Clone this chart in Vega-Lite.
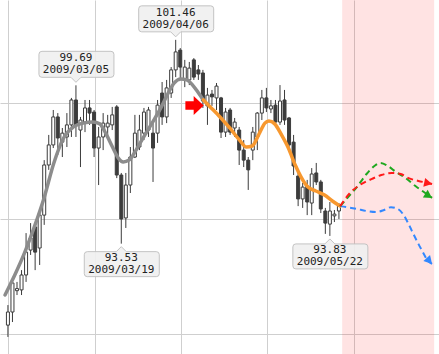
{
  "$schema": "https://vega.github.io/schema/vega-lite/v6.json",
  "width": 439,
  "height": 354,
  "autosize": {"type": "none"},
  "padding": 0,
  "background": "white",
  "config": {
    "view": {"stroke": null},
    "axis": {"labels": false, "ticks": false, "domain": false, "grid": true, "gridColor": "#cfcfcf", "gridWidth": 1, "gridOpacity": 1, "titleOpacity": 0}
  },
  "datasets": {
    "zone": [{"start": 73.71, "end": 94}],
    "candles": [
      {"d":"2009-02-12","i":0,"o":90.36,"h":91.14,"l":89.90,"c":90.87},
      {"d":"2009-02-13","i":1,"o":90.87,"h":92.11,"l":90.48,"c":92.00},
      {"d":"2009-02-16","i":2,"o":91.70,"h":92.04,"l":91.53,"c":91.78},
      {"d":"2009-02-17","i":3,"o":91.73,"h":92.50,"l":91.53,"c":92.31},
      {"d":"2009-02-18","i":4,"o":92.31,"h":93.94,"l":92.04,"c":93.20},
      {"d":"2009-02-19","i":5,"o":93.28,"h":94.33,"l":93.09,"c":93.75},
      {"d":"2009-02-20","i":6,"o":94.18,"h":94.26,"l":92.50,"c":93.20},
      {"d":"2009-02-23","i":7,"o":93.36,"h":94.76,"l":92.70,"c":94.64},
      {"d":"2009-02-24","i":8,"o":94.64,"h":96.78,"l":94.26,"c":96.59},
      {"d":"2009-02-25","i":9,"o":96.59,"h":97.76,"l":96.40,"c":97.37},
      {"d":"2009-02-26","i":10,"o":97.37,"h":98.73,"l":97.25,"c":98.46},
      {"d":"2009-02-27","i":11,"o":98.46,"h":98.61,"l":96.98,"c":97.64},
      {"d":"2009-03-02","i":12,"o":97.48,"h":98.03,"l":96.90,"c":97.83},
      {"d":"2009-03-03","i":13,"o":97.68,"h":98.61,"l":97.29,"c":98.15},
      {"d":"2009-03-04","i":14,"o":98.15,"h":99.20,"l":97.68,"c":99.12},
      {"d":"2009-03-05","i":15,"o":99.12,"h":99.69,"l":97.68,"c":98.15},
      {"d":"2009-03-06","i":16,"o":97.95,"h":98.46,"l":96.51,"c":98.34},
      {"d":"2009-03-09","i":17,"o":98.26,"h":99.12,"l":97.87,"c":98.81},
      {"d":"2009-03-10","i":18,"o":98.81,"h":99.12,"l":98.15,"c":98.61},
      {"d":"2009-03-11","i":19,"o":98.65,"h":98.73,"l":96.90,"c":97.25},
      {"d":"2009-03-12","i":20,"o":97.25,"h":98.07,"l":95.81,"c":97.68},
      {"d":"2009-03-13","i":21,"o":97.68,"h":98.61,"l":97.17,"c":98.22},
      {"d":"2009-03-16","i":22,"o":98.07,"h":98.54,"l":97.64,"c":98.22},
      {"d":"2009-03-17","i":23,"o":98.15,"h":98.85,"l":97.95,"c":98.54},
      {"d":"2009-03-18","i":24,"o":98.85,"h":98.92,"l":96.08,"c":96.20},
      {"d":"2009-03-19","i":25,"o":96.20,"h":96.28,"l":93.53,"c":94.49},
      {"d":"2009-03-20","i":26,"o":94.53,"h":96.28,"l":94.14,"c":95.81},
      {"d":"2009-03-23","i":27,"o":95.81,"h":97.29,"l":95.50,"c":96.90},
      {"d":"2009-03-24","i":28,"o":96.90,"h":98.54,"l":96.86,"c":97.83},
      {"d":"2009-03-25","i":29,"o":97.29,"h":98.54,"l":97.17,"c":97.95},
      {"d":"2009-03-26","i":30,"o":97.83,"h":98.81,"l":97.56,"c":98.65},
      {"d":"2009-03-27","i":31,"o":97.95,"h":98.85,"l":97.68,"c":98.73},
      {"d":"2009-03-30","i":32,"o":97.83,"h":98.22,"l":95.93,"c":97.25},
      {"d":"2009-03-31","i":33,"o":97.83,"h":99.12,"l":97.45,"c":98.92},
      {"d":"2009-04-01","i":34,"o":99.39,"h":99.82,"l":98.15,"c":98.46},
      {"d":"2009-04-02","i":35,"o":98.46,"h":99.90,"l":98.22,"c":99.59},
      {"d":"2009-04-03","i":36,"o":99.39,"h":100.40,"l":99.20,"c":100.29},
      {"d":"2009-04-06","i":37,"o":100.29,"h":101.46,"l":100.01,"c":100.99},
      {"d":"2009-04-07","i":38,"o":101.06,"h":101.14,"l":99.90,"c":100.40},
      {"d":"2009-04-08","i":39,"o":99.90,"h":100.68,"l":99.62,"c":100.40},
      {"d":"2009-04-09","i":40,"o":99.90,"h":100.60,"l":99.70,"c":100.36},
      {"d":"2009-04-10","i":41,"o":100.68,"h":100.75,"l":99.90,"c":100.01},
      {"d":"2009-04-13","i":42,"o":100.29,"h":100.48,"l":99.90,"c":100.13},
      {"d":"2009-04-14","i":43,"o":100.17,"h":100.29,"l":98.81,"c":99.08},
      {"d":"2009-04-15","i":44,"o":98.89,"h":99.59,"l":98.15,"c":99.31},
      {"d":"2009-04-16","i":45,"o":99.35,"h":99.51,"l":98.89,"c":99.24},
      {"d":"2009-04-17","i":46,"o":99.20,"h":99.78,"l":98.73,"c":99.66},
      {"d":"2009-04-20","i":47,"o":99.20,"h":99.24,"l":97.64,"c":97.87},
      {"d":"2009-04-21","i":48,"o":97.87,"h":98.81,"l":97.68,"c":98.65},
      {"d":"2009-04-22","i":49,"o":98.73,"h":98.81,"l":97.76,"c":97.87},
      {"d":"2009-04-23","i":50,"o":98.03,"h":98.42,"l":97.68,"c":98.26},
      {"d":"2009-04-24","i":51,"o":97.95,"h":98.07,"l":96.59,"c":97.17},
      {"d":"2009-04-27","i":52,"o":97.17,"h":97.56,"l":96.51,"c":96.78},
      {"d":"2009-04-28","i":53,"o":96.78,"h":96.90,"l":95.62,"c":96.40},
      {"d":"2009-04-29","i":54,"o":97.17,"h":98.07,"l":96.78,"c":97.87},
      {"d":"2009-04-30","i":55,"o":97.68,"h":98.65,"l":97.17,"c":98.61},
      {"d":"2009-05-01","i":56,"o":98.61,"h":99.51,"l":98.34,"c":99.20},
      {"d":"2009-05-04","i":57,"o":99.20,"h":99.59,"l":98.65,"c":98.81},
      {"d":"2009-05-05","i":58,"o":98.77,"h":99.12,"l":98.61,"c":98.89},
      {"d":"2009-05-06","i":59,"o":98.92,"h":99.12,"l":98.15,"c":98.26},
      {"d":"2009-05-07","i":60,"o":98.26,"h":99.70,"l":98.15,"c":99.08},
      {"d":"2009-05-08","i":61,"o":99.12,"h":99.51,"l":98.15,"c":98.34},
      {"d":"2009-05-11","i":62,"o":98.42,"h":98.46,"l":97.17,"c":97.37},
      {"d":"2009-05-12","i":63,"o":97.48,"h":97.76,"l":96.20,"c":96.55},
      {"d":"2009-05-13","i":64,"o":96.16,"h":96.40,"l":94.99,"c":95.27},
      {"d":"2009-05-14","i":65,"o":95.27,"h":95.89,"l":94.92,"c":95.73},
      {"d":"2009-05-15","i":66,"o":95.77,"h":96.01,"l":94.64,"c":95.15},
      {"d":"2009-05-18","i":67,"o":95.11,"h":96.47,"l":94.64,"c":96.24},
      {"d":"2009-05-19","i":68,"o":96.28,"h":96.67,"l":95.81,"c":95.93},
      {"d":"2009-05-20","i":69,"o":95.93,"h":96.01,"l":94.72,"c":94.88},
      {"d":"2009-05-21","i":70,"o":94.80,"h":94.92,"l":93.91,"c":94.33},
      {"d":"2009-05-22","i":71,"o":94.29,"h":95.15,"l":93.83,"c":94.80},
      {"d":"2009-05-25","i":72,"o":94.61,"h":94.84,"l":94.37,"c":94.68},
      {"d":"2009-05-26","i":73,"o":94.80,"h":95.11,"l":94.49,"c":94.99}
    ],
    "lines": [
      {"s":"gray","i":-0.65,"p":91.53},{"s":"gray","i":1.51,"p":92.31},{"s":"gray","i":3.66,"p":93.17},{"s":"gray","i":5.82,"p":94.18},
      {"s":"gray","i":7.97,"p":95.31},{"s":"gray","i":10.13,"p":96.67},{"s":"gray","i":12.28,"p":97.64},{"s":"gray","i":14.44,"p":98.07},
      {"s":"gray","i":16.59,"p":98.22},{"s":"gray","i":18.75,"p":98.26},{"s":"gray","i":20.26,"p":98.19},{"s":"gray","i":21.55,"p":97.83},
      {"s":"gray","i":23.06,"p":97.29},{"s":"gray","i":24.35,"p":96.86},{"s":"gray","i":25.43,"p":96.71},{"s":"gray","i":26.72,"p":96.78},
      {"s":"gray","i":28.02,"p":97.10},{"s":"gray","i":29.53,"p":97.56},{"s":"gray","i":31.68,"p":98.19},{"s":"gray","i":33.84,"p":98.85},
      {"s":"gray","i":35.35,"p":99.39},{"s":"gray","i":36.64,"p":99.78},{"s":"gray","i":38.15,"p":99.94},{"s":"gray","i":39.44,"p":99.90},
      {"s":"gray","i":40.73,"p":99.70},{"s":"gray","i":42.03,"p":99.39},{"s":"gray","i":43.10,"p":99.12},
      {"s":"orange","i":43.10,"p":99.12},{"s":"orange","i":44.61,"p":98.85},{"s":"orange","i":46.77,"p":98.46},{"s":"orange","i":48.92,"p":98.03},
      {"s":"orange","i":51.08,"p":97.56},{"s":"orange","i":52.59,"p":97.29},{"s":"orange","i":53.88,"p":97.33},{"s":"orange","i":55.39,"p":97.80},
      {"s":"orange","i":56.68,"p":98.22},{"s":"orange","i":57.54,"p":98.30},{"s":"orange","i":58.84,"p":98.19},{"s":"orange","i":60.34,"p":97.76},
      {"s":"orange","i":61.85,"p":97.25},{"s":"orange","i":63.36,"p":96.59},{"s":"orange","i":64.66,"p":96.12},{"s":"orange","i":66.16,"p":95.73},
      {"s":"orange","i":67.89,"p":95.58},{"s":"orange","i":69.83,"p":95.42},{"s":"orange","i":71.55,"p":95.19},{"s":"orange","i":73.28,"p":94.99},
      {"s":"blue","i":73.28,"p":94.99},{"s":"blue","i":74.78,"p":94.95},{"s":"blue","i":76.94,"p":94.88},{"s":"blue","i":79.09,"p":94.80},
      {"s":"blue","i":81.25,"p":94.76},{"s":"blue","i":82.97,"p":94.84},{"s":"blue","i":84.48,"p":94.95},{"s":"blue","i":85.99,"p":94.88},
      {"s":"blue","i":87.28,"p":94.64},{"s":"blue","i":88.36,"p":94.29},{"s":"blue","i":89.44,"p":93.90},{"s":"blue","i":90.52,"p":93.52},
      {"s":"blue","i":91.60,"p":93.17},{"s":"blue","i":92.67,"p":92.85},{"s":"blue","i":93.54,"p":92.74},
      {"s":"green","i":73.28,"p":94.99},{"s":"green","i":75.22,"p":95.38},{"s":"green","i":76.94,"p":95.73},{"s":"green","i":79.09,"p":96.24},
      {"s":"green","i":80.82,"p":96.55},{"s":"green","i":82.11,"p":96.67},{"s":"green","i":83.84,"p":96.55},{"s":"green","i":85.56,"p":96.32},
      {"s":"green","i":87.72,"p":96.08},{"s":"green","i":89.87,"p":95.77},{"s":"green","i":92.03,"p":95.50},{"s":"green","i":93.54,"p":95.31},
      {"s":"red","i":73.28,"p":94.99},{"s":"red","i":75.43,"p":95.50},{"s":"red","i":77.59,"p":95.81},{"s":"red","i":80.17,"p":96.04},
      {"s":"red","i":82.33,"p":96.20},{"s":"red","i":84.70,"p":96.28},{"s":"red","i":86.64,"p":96.24},{"s":"red","i":88.36,"p":96.08},
      {"s":"red","i":90.52,"p":95.97},{"s":"red","i":92.67,"p":95.89},{"s":"red","i":93.54,"p":95.85}
    ],
    "arrows": [
      {"s":"green","i":93.54,"p":95.31},
      {"s":"red","i":93.54,"p":95.85},
      {"s":"blue","i":93.54,"p":92.74}
    ],
    "marker": [{"i":43.17,"p":98.905}],
    "notes": [
      {"i":37,"p":101.46,"v":"101.46","d":"2009/04/06","pos":"above"},
      {"i":15,"p":99.69,"v":"99.69","d":"2009/03/05","pos":"above"},
      {"i":25,"p":93.53,"v":"93.53","d":"2009/03/19","pos":"below"},
      {"i":71,"p":93.83,"v":"93.83","d":"2009/05/22","pos":"below"}
    ]
  },
  "layer": [
    {
      "data": {"name": "zone"},
      "mark": {"type": "rect", "fill": "#ff0000", "opacity": 0.11},
      "encoding": {
        "x": {"field": "start", "type": "quantitative", "scale": {"domain": [-0.6466, 93.966], "nice": false, "zero": false}, "axis": {"values": [0, 19.18, 38.15, 57.11, 76.29], "title": null}},
        "x2": {"field": "end"},
        "y": {"datum": 103.01, "type": "quantitative", "scale": {"domain": [89.236, 103.01], "nice": false, "zero": false}, "axis": {"values": [90, 94.5, 99], "title": null}},
        "y2": {"datum": 89.236}
      }
    },
    {
      "data": {"name": "candles"},
      "mark": {"type": "rule", "color": "#3c3c3c", "strokeWidth": 1},
      "encoding": {
        "x": {"field": "i", "type": "quantitative"},
        "y": {"field": "l", "type": "quantitative"},
        "y2": {"field": "h"}
      }
    },
    {
      "data": {"name": "candles"},
      "mark": {"type": "bar", "size": 3, "stroke": "#3c3c3c", "strokeWidth": 1},
      "encoding": {
        "x": {"field": "i", "type": "quantitative"},
        "y": {"field": "o", "type": "quantitative"},
        "y2": {"field": "c"},
        "fill": {"condition": {"test": "datum.c >= datum.o", "value": "#ffffff"}, "value": "#3c3c3c"}
      }
    },
    {
      "data": {"name": "lines"},
      "transform": [{"filter": "datum.s == 'gray' || datum.s == 'orange'"}],
      "mark": {"type": "line", "strokeWidth": 3.5, "interpolate": "monotone", "strokeCap": "round"},
      "encoding": {
        "x": {"field": "i", "type": "quantitative"},
        "y": {"field": "p", "type": "quantitative"},
        "color": {"field": "s", "type": "nominal", "scale": {"domain": ["gray", "orange", "green", "red", "blue"], "range": ["#8c8c8c", "#f7982f", "#1fa81f", "#ff1a1a", "#3388ff"]}, "legend": null}
      }
    },
    {
      "data": {"name": "lines"},
      "transform": [{"filter": "datum.s == 'green' || datum.s == 'red' || datum.s == 'blue'"}],
      "mark": {"type": "line", "strokeWidth": 2, "strokeDash": [6, 4], "interpolate": "monotone"},
      "encoding": {
        "x": {"field": "i", "type": "quantitative"},
        "y": {"field": "p", "type": "quantitative"},
        "color": {"field": "s", "type": "nominal", "legend": null}
      }
    },
    {
      "data": {"name": "arrows"},
      "transform": [{"filter": "datum.s == 'green'"}],
      "mark": {"type": "point", "shape": "M 0 0 L -8 -4.5 L -8 4.5 Z", "size": 4, "filled": true, "opacity": 1, "angle": 32},
      "encoding": {
        "x": {"field": "i", "type": "quantitative"},
        "y": {"field": "p", "type": "quantitative"},
        "color": {"field": "s", "type": "nominal", "legend": null}
      }
    },
    {
      "data": {"name": "arrows"},
      "transform": [{"filter": "datum.s == 'red'"}],
      "mark": {"type": "point", "shape": "M 0 0 L -8 -4.5 L -8 4.5 Z", "size": 4, "filled": true, "opacity": 1, "angle": 12},
      "encoding": {
        "x": {"field": "i", "type": "quantitative"},
        "y": {"field": "p", "type": "quantitative"},
        "color": {"field": "s", "type": "nominal", "legend": null}
      }
    },
    {
      "data": {"name": "arrows"},
      "transform": [{"filter": "datum.s == 'blue'"}],
      "mark": {"type": "point", "shape": "M 0 0 L -8 -4.5 L -8 4.5 Z", "size": 4, "filled": true, "opacity": 1, "angle": 48},
      "encoding": {
        "x": {"field": "i", "type": "quantitative"},
        "y": {"field": "p", "type": "quantitative"},
        "color": {"field": "s", "type": "nominal", "legend": null}
      }
    },
    {
      "data": {"name": "marker"},
      "mark": {"type": "point", "shape": "M 0 0 L -10 -9.5 L -10 -4.2 L -18.3 -4.2 L -18.3 4.2 L -10 4.2 L -10 9.5 Z", "size": 4, "filled": true, "opacity": 1, "color": "#ff0000"},
      "encoding": {
        "x": {"field": "i", "type": "quantitative"},
        "y": {"field": "p", "type": "quantitative"}
      }
    },
    {
      "data": {"name": "notes"},
      "transform": [{"filter": "datum.pos == 'above'"}],
      "mark": {"type": "point", "shape": "M -34 -34 L 35 -34 Q 38 -34 38 -31 L 38 -11 Q 38 -8 35 -8 L 5 -8 L 0 -3 L -5 -8 L -34 -8 Q -37 -8 -37 -11 L -37 -31 Q -37 -34 -34 -34 Z", "size": 4, "filled": true, "opacity": 1, "fill": "#efefef", "fillOpacity": 0.9, "stroke": "#c3c3c3", "strokeWidth": 1},
      "encoding": {
        "x": {"field": "i", "type": "quantitative"},
        "y": {"field": "p", "type": "quantitative"}
      }
    },
    {
      "data": {"name": "notes"},
      "transform": [{"filter": "datum.pos == 'below'"}],
      "mark": {"type": "point", "shape": "M -34 8 L -5 8 L 0 3 L 5 8 L 35 8 Q 38 8 38 11 L 38 30 Q 38 33 35 33 L -34 33 Q -37 33 -37 30 L -37 11 Q -37 8 -34 8 Z", "size": 4, "filled": true, "opacity": 1, "fill": "#efefef", "fillOpacity": 0.9, "stroke": "#c3c3c3", "strokeWidth": 1},
      "encoding": {
        "x": {"field": "i", "type": "quantitative"},
        "y": {"field": "p", "type": "quantitative"}
      }
    },
    {
      "data": {"name": "notes"},
      "transform": [{"filter": "datum.pos == 'above'"}],
      "mark": {"type": "text", "font": "DejaVu Sans Mono", "fontSize": 11, "color": "#222222", "align": "center", "baseline": "middle", "dy": -27},
      "encoding": {
        "x": {"field": "i", "type": "quantitative"},
        "y": {"field": "p", "type": "quantitative"},
        "text": {"field": "v"}
      }
    },
    {
      "data": {"name": "notes"},
      "transform": [{"filter": "datum.pos == 'above'"}],
      "mark": {"type": "text", "font": "DejaVu Sans Mono", "fontSize": 11, "color": "#222222", "align": "center", "baseline": "middle", "dy": -15},
      "encoding": {
        "x": {"field": "i", "type": "quantitative"},
        "y": {"field": "p", "type": "quantitative"},
        "text": {"field": "d"}
      }
    },
    {
      "data": {"name": "notes"},
      "transform": [{"filter": "datum.pos == 'below'"}],
      "mark": {"type": "text", "font": "DejaVu Sans Mono", "fontSize": 11, "color": "#222222", "align": "center", "baseline": "middle", "dy": 14},
      "encoding": {
        "x": {"field": "i", "type": "quantitative"},
        "y": {"field": "p", "type": "quantitative"},
        "text": {"field": "v"}
      }
    },
    {
      "data": {"name": "notes"},
      "transform": [{"filter": "datum.pos == 'below'"}],
      "mark": {"type": "text", "font": "DejaVu Sans Mono", "fontSize": 11, "color": "#222222", "align": "center", "baseline": "middle", "dy": 26},
      "encoding": {
        "x": {"field": "i", "type": "quantitative"},
        "y": {"field": "p", "type": "quantitative"},
        "text": {"field": "d"}
      }
    }
  ]
}
